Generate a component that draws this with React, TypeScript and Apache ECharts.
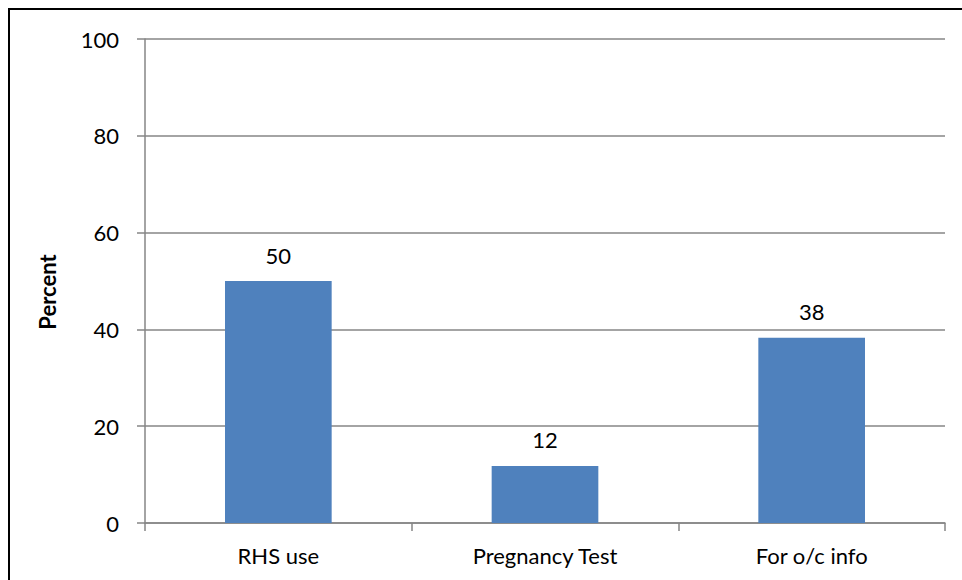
import React, { useEffect, useRef } from "react";
import * as echarts from "echarts";

const categories = ["RHS use", "Pregnancy Test", "For o/c info"];
const values = [50, 11.8, 38.3];
const yTicks = { min: 0, max: 100, interval: 20 };
const yTitle = "Percent";

const FONT = "Lato, 'Open Sans', sans-serif";
const GRAY = "#868686";
const FS = 22;

export default function App() {
  const ref = useRef<HTMLDivElement>(null);
  useEffect(() => {
    if (!ref.current) return;
    const chart = echarts.init(ref.current, null, { renderer: "svg" });
    chart.setOption({
      animation: false,
      backgroundColor: "#ffffff",
      textStyle: { fontFamily: FONT },
      grid: { left: 145, right: 17, top: 39, bottom: 57, containLabel: false },
      xAxis: {
        type: "category",
        data: categories,
        boundaryGap: true,
        axisLine: { show: true, lineStyle: { color: GRAY, width: 1.5 } },
        axisTick: { show: true, length: 8, alignWithLabel: false, lineStyle: { color: GRAY, width: 1.5 } },
        axisLabel: { color: "#000", fontSize: FS, fontFamily: FONT, margin: 21 },
      },
      yAxis: {
        type: "value",
        min: yTicks.min,
        max: yTicks.max,
        interval: yTicks.interval,
        axisLine: { show: true, lineStyle: { color: GRAY, width: 1.5 } },
        axisTick: { show: true, length: 8, lineStyle: { color: GRAY, width: 1.5 } },
        axisLabel: { color: "#000", fontSize: FS, fontFamily: FONT, margin: 26 },
        splitLine: { show: true, lineStyle: { color: GRAY, width: 1.5 } },
      },
      series: [
        {
          type: "bar",
          data: values,
          barWidth: "40%",
          itemStyle: { color: "#4F81BD" },
          label: {
            show: true,
            position: "top",
            distance: 15,
            color: "#000",
            fontSize: FS,
            fontFamily: FONT,
            formatter: (p: any) => String(Math.round(p.value)),
          },
        },
      ],
      graphic: [
        {
          type: "rect",
          shape: { x: 9, y: 9, width: 1000, height: 700 },
          style: { fill: "none", stroke: "#000", lineWidth: 2 },
          silent: true,
        },
        {
          type: "text",
          x: 47,
          y: 292,
          rotation: Math.PI / 2,
          style: {
            text: yTitle,
            fill: "#000",
            font: `bold 22px ${FONT}`,
            align: "center",
            verticalAlign: "middle",
          },
        },
      ],
    });
    return () => chart.dispose();
  }, []);
  return (
    <div
      ref={ref}
      style={{ position: "absolute", left: 0, top: 0, width: 962, height: 580 }}
    />
  );
}
